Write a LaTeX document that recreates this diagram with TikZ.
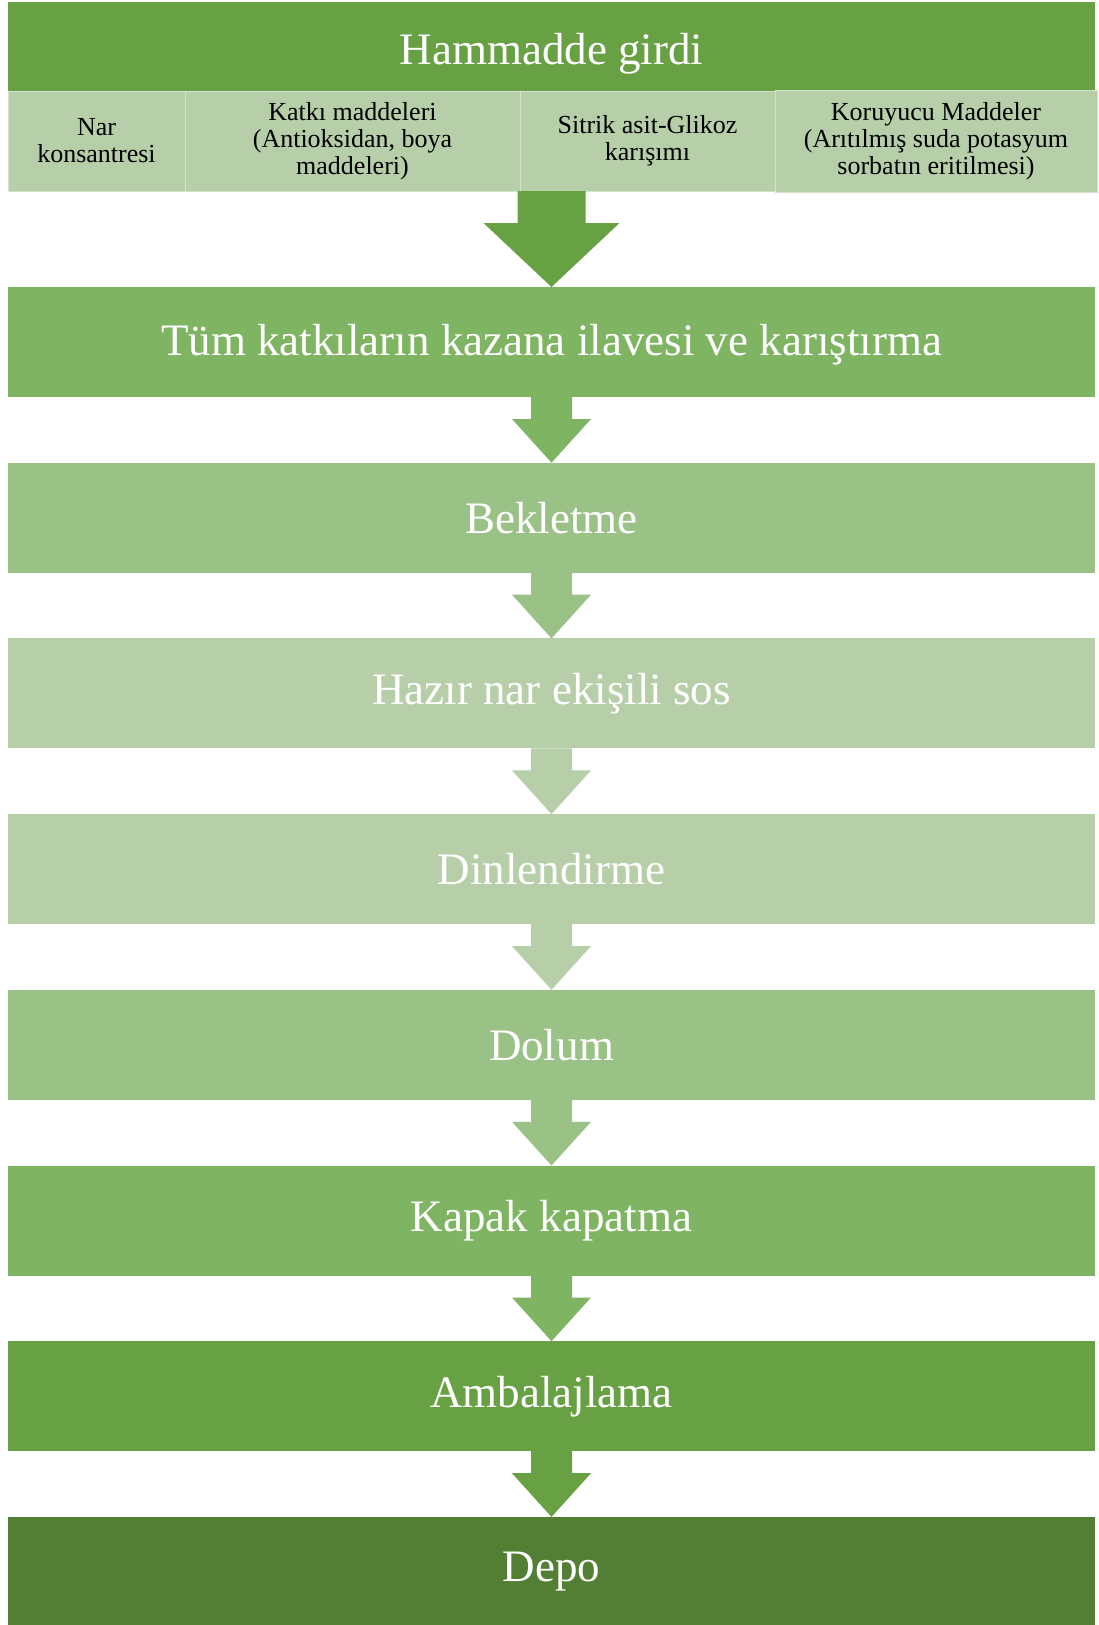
\documentclass[tikz,border=0pt]{standalone}
\usepackage{fontspec}
\setmainfont{Liberation Serif}
\usetikzlibrary{positioning,calc}

\definecolor{gA}{HTML}{68A044}
\definecolor{gB}{HTML}{7FB462}
\definecolor{gC}{HTML}{9BC286}
\definecolor{gD}{HTML}{B6CFA9}
\definecolor{gE}{HTML}{527F34}

\begin{document}
\begin{tikzpicture}[
        x=1pt, y=1pt,
        node distance = 175.7pt,
        inner sep=0pt,
        outer sep=0pt,
        stepbox/.style={rectangle, minimum width=1087pt, minimum height=110pt,
            text=white, font=\fontsize{45}{54}\selectfont},
        subbox/.style={rectangle, minimum height=100pt, fill=gD, draw=gD!60!white,
            line width=0.8pt, align=center, font=\fontsize{26}{27}\selectfont}]

        \useasboundingbox (0,0) rectangle (1099,-1625);

        % NODES
        % input
        \node[stepbox, fill=gA, minimum height=89pt, text height=40pt, text depth=5pt] (ham) at (551.5,-46.5) {Hammadde girdi};
        % input parts
        \node[subbox, minimum width=177pt, anchor=north west] (nar) at (ham.south west) {Nar\\konsantresi};
        \node[subbox, minimum width=335pt, right=0pt of nar] (katki) {Katkı maddeleri\\(Antioksidan, boya\\maddeleri)};
        \node[subbox, minimum width=255pt, right=0pt of katki] (sitrik) {Sitrik asit-Glikoz\\karışımı};
        \node[subbox, minimum width=322pt, minimum height=102pt, right=0pt of sitrik] (koru) {Koruyucu Maddeler\\(Arıtılmış suda potasyum\\sorbatın eritilmesi)};
        % steps
        \node[stepbox, fill=gB, text height=34pt, text depth=7pt] (tum) at (551.5,-342) {Tüm katkıların kazana ilavesi ve karıştırma};
        \node[stepbox, fill=gC, below of = tum] (bek) {Bekletme};
        \node[stepbox, fill=gD, below of = bek] (hazir) {Hazır nar ekişili sos};
        \node[stepbox, fill=gD, below of = hazir] (dinl) {Dinlendirme};
        \node[stepbox, fill=gC, below of = dinl] (dolum) {Dolum};
        \node[stepbox, fill=gB, below of = dolum] (kapak) {Kapak kapatma};
        \node[stepbox, fill=gA, below of = kapak] (amb) {Ambalajlama};
        \node[stepbox, fill=gE, below of = amb] (depo) {Depo};
        % arrow start
        \coordinate (in) at (ham.center |- sitrik.south);

        % ARROWS
        \fill[gA] ($(in)+(-34,0)$) -- ($(in)+(-34,-32)$) -- ($(in)+(-68,-32)$) -- (tum.north)
            -- ($(in)+(68,-32)$) -- ($(in)+(34,-32)$) -- ($(in)+(34,0)$) -- cycle;
        \foreach \a/\b/\c in {tum/bek/gB, bek/hazir/gC, hazir/dinl/gD, dinl/dolum/gD,
                dolum/kapak/gC, kapak/amb/gB, amb/depo/gA}
            \fill[\c] ($(\a.south)+(-20.5,0)$) -- ($(\a.south)+(-20.5,-22)$) -- ($(\a.south)+(-39.5,-22)$)
                -- (\b.north) -- ($(\a.south)+(39.5,-22)$) -- ($(\a.south)+(20.5,-22)$)
                -- ($(\a.south)+(20.5,0)$) -- cycle;
\end{tikzpicture}
\end{document}
